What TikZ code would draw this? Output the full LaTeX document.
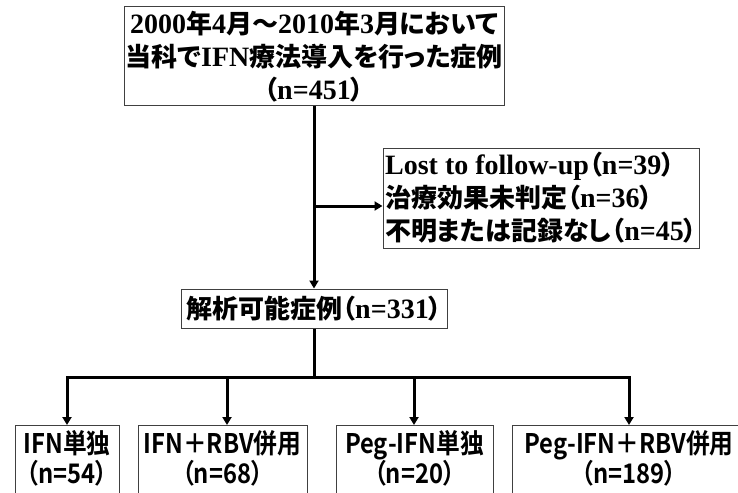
\documentclass[tikz,border=0pt]{standalone}
\usepackage{fontspec}
\setmainfont{Liberation Serif}
\newfontfamily\jp{Noto Sans CJK JP}[UprightFont={* Bold}, RawFeature=+palt]
\newfontfamily\jpb{Noto Sans CJK JP}[UprightFont={* Bold}, RawFeature=+palt, FakeStretch=0.88]
\newcommand\J[1]{{\fontsize{26}{33}\jp #1}}
\usetikzlibrary{arrows.meta}
\begin{document}
\begin{tikzpicture}[x=1pt,y=-1pt,
  box/.style={draw=black!75, line width=1pt, inner sep=0pt, align=center},
  conn/.style={line width=3pt},
  arr/.style={conn,-{Triangle[length=8pt,width=9pt]}},
  topfont/.style={font=\fontsize{28}{33}\selectfont\bfseries},
  botfont/.style={font=\fontsize{27}{30}\selectfont\jpb}]
\useasboundingbox (0,0) rectangle (738,492);
\fill[white] (0,0) rectangle (738,492);
% boxes
\node[box, topfont, minimum width=380pt, minimum height=99pt] (top) at (314,56.5)
  {2000\J{年}4\J{月～}2010\J{年}3\J{月において}\\
   \J{当科で}IFN\J{療法導入を行った症例}\\
   \J{（}n=451\J{）}};
\node[box, topfont, align=left, minimum width=316pt, minimum height=100pt] (side) at (541,198)
  {Lost to follow-up\J{（}n=39\J{）}\\
   \J{治療効果未判定（}n=36\J{）}\\
   \J{不明または記録なし（}n=45\J{）}};
\node[box, topfont, minimum width=266pt, minimum height=39pt] (mid) at (314,308.5)
  {\J{解析可能症例（}n=331\J{）}};
\node[box, botfont, anchor=north, inner ysep=5pt, minimum width=104pt] (b1) at (67,425)
  {IFN単独\\（n=54）\\ \strut};
\node[box, botfont, anchor=north, inner ysep=5pt, minimum width=169pt] (b2) at (222.5,425)
  {IFN＋RBV併用\\（n=68）\\ \strut};
\node[box, botfont, anchor=north, inner ysep=5pt, minimum width=157pt] (b3) at (414.5,425)
  {Peg-IFN単独\\（n=20）\\ \strut};
\node[box, botfont, anchor=north, inner ysep=5pt, minimum width=234pt] (b4) at (629,425)
  {Peg-IFN＋RBV併用\\（n=189）\\ \strut};
% connectors
\coordinate (s) at (314,206);
\coordinate (j) at (314,377);
\coordinate (a1) at (67,377);
\coordinate (a2) at (227,377);
\coordinate (a3) at (414,377);
\coordinate (a4) at (629,377);
\draw[arr] (top.south) -- (mid.north);
\draw[arr] (s) -- (s -| side.west);
\draw[conn] (mid.south) -- (j);
\draw[conn, line cap=rect] (a1) -- (a4);
\draw[arr] (a1) -- (a1 |- b1.north);
\draw[arr] (a2) -- (a2 |- b2.north);
\draw[arr] (a3) -- (a3 |- b3.north);
\draw[arr] (a4) -- (a4 |- b4.north);
\end{tikzpicture}
\end{document}
